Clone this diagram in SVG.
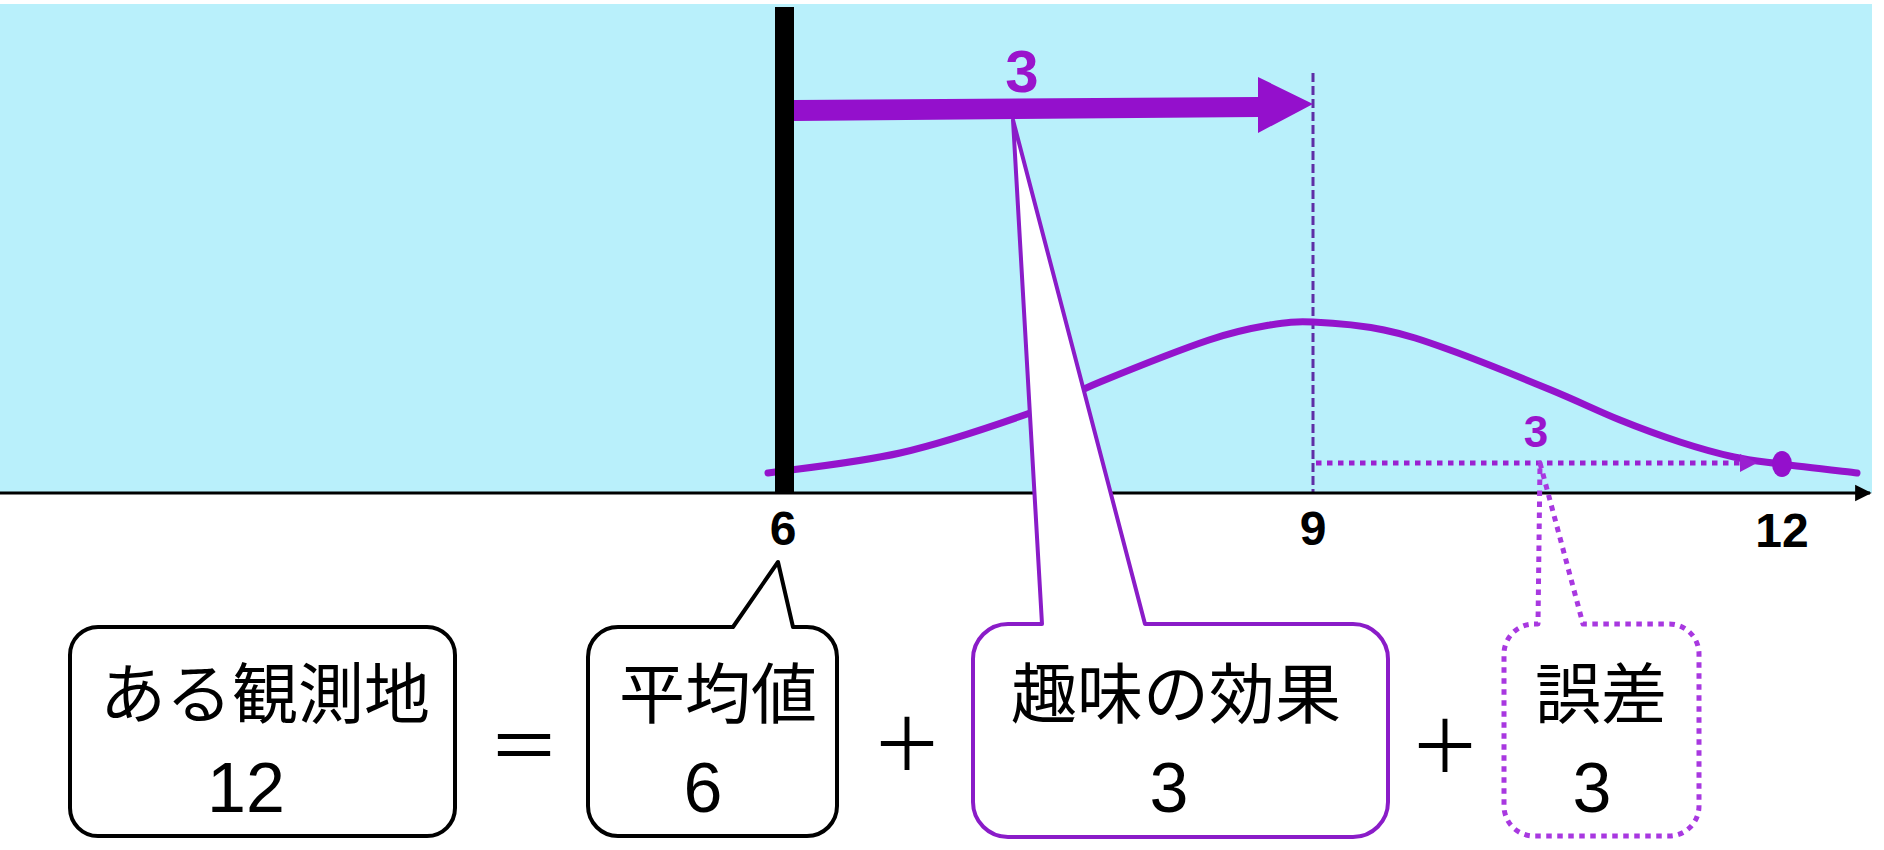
<svg xmlns="http://www.w3.org/2000/svg" width="1884" height="850" viewBox="0 0 1884 850">
  <style>
    .jp { font-family: "Noto Sans CJK JP", "Noto Sans", sans-serif; font-size: 66px; fill: #000; text-anchor: middle; }
    .num { font-family: "Liberation Sans", Arial, sans-serif; font-size: 70px; fill: #000; text-anchor: middle; }
    .tick { font-family: "Liberation Sans", Arial, sans-serif; font-size: 48px; font-weight: bold; fill: #000; text-anchor: middle; }
    .plab { font-family: "Liberation Sans", Arial, sans-serif; font-weight: bold; fill: #9a14cc; text-anchor: middle; }
    .op { font-family: "Noto Sans CJK JP", sans-serif; font-size: 72px; fill: #000; text-anchor: middle; }
    .box { fill: #fff; stroke: #000; stroke-width: 4; }
  </style>
  <defs>
    <marker id="axhead" viewBox="0 0 10 10" refX="9" refY="5" markerWidth="5.5" markerHeight="7" markerUnits="strokeWidth" orient="auto">
      <path d="M0,0 L10,5 L0,10 Z" fill="#000"/>
    </marker>
  </defs>

  <!-- chart background -->
  <rect x="0" y="4" width="1872" height="489" fill="#b9f0fb"/>

  <g id="connectors">
    <!-- dashed mean line -->
    <line x1="1313" y1="73" x2="1313" y2="493" stroke="#5e2ea6" stroke-width="3" stroke-dasharray="9 4"/>
    <!-- distribution curve -->
    <path d="M768,473 C790,469.7 856.3,463 900,453 C943.7,443 996.7,424.8 1030,413 C1063.3,401.2 1070.2,394.2 1100,382 C1129.8,369.8 1180.7,349.5 1209,340 C1237.3,330.5 1252.7,328 1270,325 C1287.3,322 1294,321.5 1313,322 C1332,322.8 1361.2,325.3 1384,330 C1406.8,334.7 1422.2,340 1450,350 C1477.8,360 1522.7,378.3 1551,390 C1579.3,401.7 1598.5,411.3 1620,420 C1641.5,428.7 1661,435.8 1680,442 C1699,448.2 1717.2,453.3 1734,457 C1750.8,460.7 1760.5,461.3 1781,464 C1801.5,466.7 1844.3,471.5 1857,473" fill="none" stroke="#9414cc" stroke-width="7" stroke-linecap="round"/>
    <!-- mean bar -->
    <rect x="775" y="7" width="19" height="486" fill="#000"/>
    <!-- x axis -->
    <line x1="0" y1="493" x2="1870" y2="493" stroke="#000" stroke-width="3" marker-end="url(#axhead)"/>
  </g>

  <!-- hobby effect callout -->
  <g id="node-hobby">
    <path d="M1008,624 L1042,624 L1013,120 L1145,624 L1353,624 A35,35 0 0 1 1388,659 L1388,802 A35,35 0 0 1 1353,837 L1008,837 A35,35 0 0 1 973,802 L973,659 A35,35 0 0 1 1008,624 Z" fill="#fff" stroke="#8a1cc8" stroke-width="4" stroke-linejoin="round"/>
    <text class="jp" x="1176" y="718">趣味の効果</text>
    <text class="num" x="1169" y="812">3</text>
  </g>

  <g id="connectors-top">
    <!-- thick arrow 6 -> 9 -->
    <polygon points="794,100 1258,97 1258,77 1313,104 1258,133 1258,117 794,121" fill="#9410cc"/>
    <!-- dotted arrow 9 -> 12 -->
    <line x1="1316" y1="463" x2="1742" y2="463" stroke="#9a20d0" stroke-width="5" stroke-dasharray="5.5 5.5"/>
    <polygon points="1740,454 1757,463 1740,472" fill="#9a20d0"/>
    <ellipse cx="1782" cy="464" rx="10" ry="13" fill="#9410cc"/>
  </g>

  <text class="plab" x="1022" y="92" font-size="60">3</text>
  <text class="plab" x="1536" y="447" font-size="44">3</text>

  <!-- axis tick labels -->
  <text class="tick" x="783" y="545">6</text>
  <text class="tick" x="1313" y="545">9</text>
  <text class="tick" x="1782" y="547">12</text>

  <!-- error callout -->
  <g id="node-error">
    <path d="M1534,624 L1538,624 L1540,463 L1583,624 L1669,624 A30,30 0 0 1 1699,654 L1699,806 A30,30 0 0 1 1669,836 L1534,836 A30,30 0 0 1 1504,806 L1504,654 A30,30 0 0 1 1534,624 Z" fill="none" stroke="#a838e0" stroke-width="5" stroke-dasharray="5.5 5.5" stroke-linejoin="round"/>
    <text class="jp" x="1601" y="718">誤差</text>
    <text class="num" x="1592" y="812">3</text>
  </g>

  <!-- observation box -->
  <g id="node-observation">
    <rect class="box" x="70" y="627" width="385" height="209" rx="28"/>
    <text class="jp" x="265" y="718">ある観測地</text>
    <text class="num" x="246" y="812">12</text>
  </g>

  <!-- mean callout -->
  <g id="node-mean">
    <path class="box" d="M618,627 L733,627 L778,562 L793,627 L807,627 A30,30 0 0 1 837,657 L837,806 A30,30 0 0 1 807,836 L618,836 A30,30 0 0 1 588,806 L588,657 A30,30 0 0 1 618,627 Z" stroke-linejoin="round"/>
    <text class="jp" x="718" y="718">平均値</text>
    <text class="num" x="703" y="812">6</text>
  </g>

  <!-- operators -->
  <g id="operators">
    <text class="op" x="524" y="772">＝</text>
    <text class="op" x="907" y="770">＋</text>
    <text class="op" x="1445" y="772">＋</text>
  </g>
</svg>
